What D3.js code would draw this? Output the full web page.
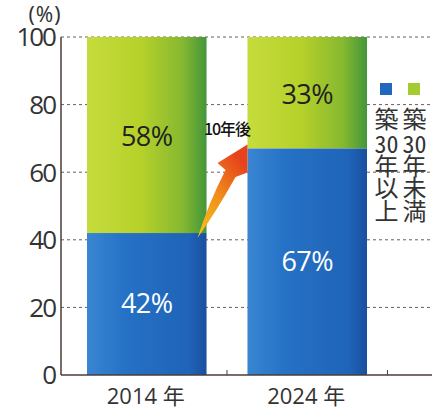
<!DOCTYPE html>
<html><head><meta charset="utf-8">
<script src="https://cdn.jsdelivr.net/npm/d3@7"></script>
<style>
body{margin:0;background:#fff;position:relative}
svg{display:block}
.leg{position:absolute;writing-mode:vertical-rl;font-family:'Noto Sans CJK JP',sans-serif;font-size:24px;line-height:24px;width:24px;color:#333;letter-spacing:-1.5px;white-space:nowrap}
.leg .tcy{text-combine-upright:all}
</style>
</head><body>
<script>
const categories = ["2014 年", "2024 年"];
const over30 = [42, 67];   // 築30年以上
const under30 = [58, 33];  // 築30年未満
const yTicks = [0, 20, 40, 60, 80, 100];
const legendCols = [["築","30","年","以","上"], ["築","30","年","未","満"]];

const W = 437, H = 409;
const svg = d3.select("body").append("svg").attr("width", W).attr("height", H);
const defs = svg.append("defs");
function hgrad(id, stops){
  const g = defs.append("linearGradient").attr("id", id).attr("x1","0").attr("x2","1").attr("y1","0").attr("y2","0");
  stops.forEach(([o,c]) => g.append("stop").attr("offset", o).attr("stop-color", c));
}
hgrad("gGreen", [[0,"#c6dc3c"],[0.45,"#b6d12a"],[0.8,"#86b830"],[1,"#43963a"]]);
hgrad("gBlue", [[0,"#3a86d2"],[0.3,"#2672c6"],[0.85,"#1f64b8"],[1,"#1a4f9f"]]);
const ag = defs.append("linearGradient").attr("id","gArrow").attr("x1","0").attr("y1","1").attr("x2","0.6").attr("y2","0");
ag.append("stop").attr("offset",0).attr("stop-color","#f7c51a");
ag.append("stop").attr("offset",0.5).attr("stop-color","#f0901c");
ag.append("stop").attr("offset",1).attr("stop-color","#e6421c");

const y = d3.scaleLinear().domain([0, 100]).range([375, 37]);
const x = d3.scaleBand().domain(categories).range([61, 393]).paddingInner(0.255).paddingOuter(0.162);
const xEnd = 432;

// gridlines
svg.append("g").selectAll("line").data(yTicks.filter(d => d > 0)).join("line")
  .attr("x1", 61).attr("x2", xEnd).attr("y1", d => y(d)).attr("y2", d => y(d))
  .attr("stroke", "#6e5c58").attr("stroke-width", 1).attr("stroke-dasharray", "3,3");

// bars
const fmt = d => d + "%";
categories.forEach((c, i) => {
  svg.append("rect").attr("x", x(c)).attr("width", x.bandwidth())
    .attr("y", y(100)).attr("height", y(over30[i]) - y(100)).attr("fill", "url(#gGreen)");
  svg.append("rect").attr("x", x(c)).attr("width", x.bandwidth())
    .attr("y", y(over30[i])).attr("height", y(0) - y(over30[i])).attr("fill", "url(#gBlue)");
  svg.append("text").attr("x", x(c) + x.bandwidth()/2).attr("y", y(over30[i] + under30[i]/2) + 4)
    .attr("text-anchor","middle").attr("dominant-baseline","middle")
    .attr("font-family","'Open Sans', sans-serif").attr("font-size", 27).attr("fill","#222")
    .attr("letter-spacing", -0.5).text(fmt(under30[i]));
  svg.append("text").attr("x", x(c) + x.bandwidth()/2).attr("y", y(over30[i]/2) + 2)
    .attr("text-anchor","middle").attr("dominant-baseline","middle")
    .attr("font-family","'Open Sans', sans-serif").attr("font-size", 27).attr("fill","#fff")
    .attr("letter-spacing", -0.5).text(fmt(over30[i]));
});

// axes
svg.append("line").attr("x1", 61).attr("x2", 61).attr("y1", y(100)).attr("y2", y(0))
  .attr("stroke", "#4a3c38").attr("stroke-width", 1.5);
svg.append("line").attr("x1", 61).attr("x2", xEnd).attr("y1", y(0)).attr("y2", y(0))
  .attr("stroke", "#4a3c38").attr("stroke-width", 1.5);
const step = x.step();
const bounds = categories.map(c => x(c) + x.bandwidth() + (step - x.bandwidth())/2);
svg.append("g").selectAll("line").data(bounds).join("line")
  .attr("x1", d => d).attr("x2", d => d).attr("y1", y(0)).attr("y2", y(0) - 5)
  .attr("stroke", "#4a3c38").attr("stroke-width", 1);

svg.append("g").selectAll("text").data(yTicks).join("text")
  .attr("x", 55).attr("y", d => y(d)).attr("dy", "0.36em")
  .attr("text-anchor","end").attr("font-family","'Open Sans', sans-serif")
  .attr("font-size", 26).attr("fill","#333").attr("letter-spacing", -2).text(d => d);
svg.append("text").attr("x", 45).attr("y", 22).attr("text-anchor","middle")
  .attr("font-family","'Noto Sans', sans-serif").attr("font-size", 21).attr("fill","#333")
  .attr("letter-spacing", 1).text("(%)");

svg.append("g").selectAll("text").data(categories).join("text")
  .attr("x", d => x(d) + x.bandwidth()/2 - 1).attr("y", 404).attr("text-anchor","middle")
  .attr("font-family","'Open Sans','Noto Sans CJK JP', sans-serif").attr("font-size", 22).attr("fill","#333")
  .text(d => d);

// arrow from bar1 top-right to bar2 top-left
const x0 = x(categories[0]) + x.bandwidth(), y0 = y(over30[0]);
const x1 = x(categories[1]), y1 = y(over30[1]);
const path = d3.path();
path.moveTo(x0 - 9, y0 + 5);
path.quadraticCurveTo(x0 + 2, y0 - 30, x0 + 19, y0 - 63);
path.lineTo(x0 + 11, y0 - 70);
path.lineTo(x1, y1 - 4);
path.lineTo(x1, y1 + 24);
path.lineTo(x0 + 29, y0 - 56);
path.quadraticCurveTo(x0 + 10, y0 - 22, x0 - 9, y0 + 5);
path.closePath();
svg.append("path").attr("d", path.toString()).attr("fill", "url(#gArrow)");
svg.append("text").attr("x", 227).attr("y", 135).attr("text-anchor","middle")
  .attr("font-family","'Noto Sans CJK JP', sans-serif").attr("font-size", 16).attr("font-weight", 500)
  .attr("fill","#111").attr("letter-spacing", -1).text("10年後");

// legend
const legColors = ["#2068bd", "#a4cc30"];
const legX = [386, 414];
legendCols.forEach((col, i) => {
  svg.append("rect").attr("x", legX[i] - 6).attr("y", 83).attr("width", 12).attr("height", 12)
    .attr("fill", legColors[i]);
  const div = d3.select("body").append("div").attr("class", "leg")
    .style("left", (legX[i] - 12) + "px").style("top", "107px");
  col.forEach(ch => {
    if (ch.length > 1) div.append("span").attr("class", "tcy").text(ch);
    else div.append("span").text(ch);
  });
});
</script>
</body></html>
